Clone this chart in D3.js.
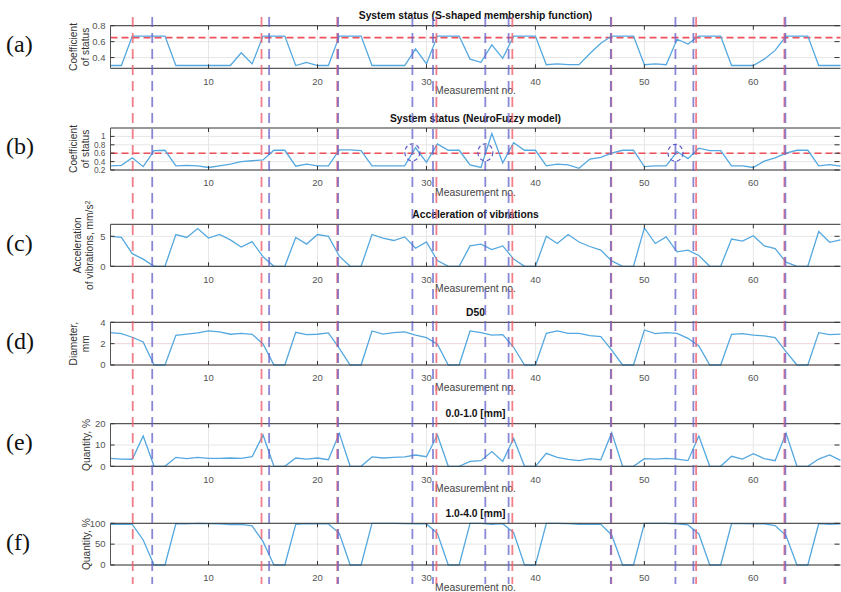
<!DOCTYPE html>
<html>
<head>
<meta charset="utf-8">
<script src="https://cdn.jsdelivr.net/npm/d3@7"></script>
<style>
  body { margin: 0; background: #fff; }
  svg { display: block; font-family: "Liberation Sans", Arial, sans-serif; }
</style>
</head>
<body>
<div id="chart"></div>
<script>
// measurement values, one per measurement no. 1..68
var statusS = [0.3,0.3,0.67,0.67,0.67,0.67,0.3,0.3,0.3,0.3,0.3,0.3,0.46,0.32,0.67,0.67,0.67,0.3,0.34,0.3,
  0.3,0.67,0.67,0.67,0.3,0.3,0.3,0.3,0.51,0.32,0.67,0.67,0.67,0.38,0.34,0.56,0.39,0.67,0.67,0.67,
  0.31,0.32,0.31,0.31,0.45,0.58,0.67,0.67,0.67,0.31,0.32,0.31,0.63,0.57,0.67,0.67,0.67,0.3,0.3,0.3,
  0.38,0.49,0.67,0.67,0.67,0.3,0.3,0.3];
var statusNF = [0.3,0.31,0.49,0.28,0.66,0.67,0.3,0.31,0.3,0.26,0.3,0.34,0.4,0.42,0.44,0.67,0.67,0.29,0.34,0.3,
  0.3,0.68,0.68,0.66,0.3,0.3,0.3,0.3,0.73,0.38,0.82,0.67,0.67,0.32,0.26,1.07,0.37,0.85,0.67,0.67,
  0.3,0.34,0.32,0.24,0.46,0.5,0.6,0.67,0.67,0.28,0.3,0.3,0.64,0.47,0.72,0.66,0.66,0.3,0.3,0.26,
  0.41,0.49,0.6,0.67,0.67,0.3,0.33,0.29];
var accel = [5.0,4.83,2.1,1.2,0,0,5.3,4.8,6.3,4.7,5.3,4.4,3.2,4.1,1.6,0,0,4.8,3.7,5.3,
  5.0,1.7,0,0,5.3,4.7,4.3,4.9,3.0,4.05,0.95,0,0,3.4,3.7,2.8,3.4,1.2,0,0,
  5.0,3.8,5.3,4.05,3.3,2.7,0.9,0,0,6.4,3.8,4.9,2.4,2.7,1.8,0,0,4.55,4.2,5.1,
  3.4,2.95,0.7,0,0,5.8,4.0,4.4];
var d50 = [3.03,2.94,2.6,2.16,0,0,2.78,2.9,3.0,3.19,3.1,2.88,2.97,2.88,1.97,0,0,3.06,2.84,2.88,
  3.0,1.56,0,0,3.19,2.9,3.03,3.1,2.8,2.56,1.94,0,0,3.19,3.03,2.8,2.84,1.66,0,0,
  2.97,3.2,2.97,2.97,2.75,2.66,1.4,0,0,3.28,2.94,3.03,2.97,2.5,1.78,0,0,2.88,2.94,2.8,
  2.72,2.56,1.25,0,0,3.03,2.84,2.9];
var q0010 = [3.75,3.4,3.3,14.2,0,0,4.2,3.6,4.2,3.75,3.75,3.9,3.75,4.5,14.7,0,0,3.9,3.4,3.9,
  3.1,15.5,0,0,4.4,3.9,4.2,4.4,5.3,4.5,14.7,0,0,2.3,2.65,6.9,2.3,13.1,0,0,
  6.1,4.2,3.3,2.65,3.6,3.1,15.8,0,0,3.6,3.4,3.75,3.4,2.65,14.2,0,0,4.7,3.4,5.9,
  3.6,2.65,15.6,0,0,3.4,5.3,2.8];
var q1040 = [97.6,97.6,97.6,60,0,0,99,98.4,100,99,98.4,96.8,97.6,93.6,56,0,0,97.6,99,98.4,
  98.4,76,0,0,100,100,100,99,98.4,98.4,76,0,0,100,100,97.6,99,77.6,0,0,
  100,100,99,97.6,97.6,97.6,72,0,0,100,100,100,98.4,96,74.4,0,0,99,99,98.4,
  98.4,94.4,70.4,0,0,99,97.6,98.4];

// vertical marker lines (measurement no.)
var redLines = [3.04, 14.86, 21.81, 30.91, 37.88, 46.96, 54.75, 62.85];
var blueLines = [4.83, 15.56, 21.89, 28.71, 30.6, 35.4, 37.54, 46.92, 52.85, 54.5, 62.94];
// dashed circles on NeuroFuzzy panel
var circleX = [28.7, 35.4, 52.85];
var circleY = [0.62, 0.62, 0.61];
var xTicks = [10, 20, 30, 40, 50, 60];

var panels = [
  {lab:"(a)", title:"System status (S-shaped membership function)", data:statusS, top:25.7, bottom:68.3,
   domain:[0.265,0.8], ticks:[0.4,0.6,0.8], fmt:d3.format(".1f"), ylab:["Coefficient","of status"], thr:0.65},
  {lab:"(b)", title:"System status (NeuroFuzzy model)", data:statusNF, top:128, bottom:170,
   domain:[0.2,1.2], ticks:[0.2,0.4,0.6,0.8,1], fmt:function(d){ return d==1 ? "1" : d3.format(".1f")(d); },
   ylab:["Coefficient","of status"], thr:0.6, small:true},
  {lab:"(c)", title:"Acceleration of vibrations", data:accel, top:224.3, bottom:266.3,
   domain:[0,7], ticks:[0,5], fmt:String, ylab:["Acceleration","of vibrations, mm/s"], sup:true},
  {lab:"(d)", title:"D50", data:d50, top:322.3, bottom:365,
   domain:[0,4], ticks:[0,2,4], fmt:String, ylab:["Diameter,","mm"]},
  {lab:"(e)", title:"0.0-1.0 [mm]", data:q0010, top:423.7, bottom:466.3,
   domain:[0,20], ticks:[0,10,20], fmt:String, ylab:["Quantity, %"]},
  {lab:"(f)", title:"1.0-4.0 [mm]", data:q1040, top:523.3, bottom:565,
   domain:[0,100], ticks:[0,50,100], fmt:String, ylab:["Quantity, %"]}
];

var W = 841, H = 592;
var left = 110.5, right = 840.5;
var x = d3.scaleLinear().domain([1, 68]).range([left, right]);

var svg = d3.select("#chart").append("svg").attr("width", W).attr("height", H);

panels.forEach(function(p){
  var y = d3.scaleLinear().domain(p.domain).range([p.bottom, p.top]);
  var g = svg.append("g");

  // grid
  g.selectAll(".vg").data(xTicks).enter().append("line")
    .attr("x1", x).attr("x2", x).attr("y1", p.top).attr("y2", p.bottom)
    .attr("stroke", "#e6e6e6").attr("stroke-width", 1);
  g.selectAll(".hg").data(p.ticks).enter().append("line")
    .attr("x1", left).attr("x2", right).attr("y1", y).attr("y2", y)
    .attr("stroke", p.lab=="(d)" ? "#f0d6da" : "#e6e6e6").attr("stroke-width", 1);

  // threshold
  if (p.thr != null) {
    g.append("line").attr("x1", left).attr("x2", right)
      .attr("y1", y(p.thr)).attr("y2", y(p.thr))
      .attr("stroke", "#f0505a").attr("stroke-width", 1.6).attr("stroke-dasharray", "7,4");
  }

  // series
  var line = d3.line().x(function(d, i){ return x(i + 1); }).y(function(d){ return y(d); });
  g.append("path").datum(p.data).attr("d", line)
    .attr("fill", "none").attr("stroke", "#55a8df").attr("stroke-width", 1.3);

  // box + ticks
  g.append("line").attr("x1", left).attr("x2", right).attr("y1", p.top).attr("y2", p.top)
    .attr("stroke", "#333").attr("stroke-width", 1);
  g.append("line").attr("x1", left).attr("x2", right).attr("y1", p.bottom).attr("y2", p.bottom)
    .attr("stroke", "#333").attr("stroke-width", 1);
  g.append("line").attr("x1", left).attr("x2", left).attr("y1", p.top).attr("y2", p.bottom)
    .attr("stroke", "#555").attr("stroke-width", 1);
  g.selectAll(".xt").data(xTicks).enter().append("path")
    .attr("d", function(d){ return "M" + x(d) + "," + p.top + "v4M" + x(d) + "," + p.bottom + "v-4"; })
    .attr("stroke", "#333").attr("stroke-width", 1);
  g.selectAll(".yt").data(p.ticks).enter().append("path")
    .attr("d", function(d){ return "M" + left + "," + y(d) + "h4M" + (right - 1) + "," + y(d) + "h-5"; })
    .attr("stroke", "#333").attr("stroke-width", 1);

  // tick labels
  g.selectAll(".xl").data(xTicks).enter().append("text")
    .attr("x", x).attr("y", p.bottom + 13).attr("dy", "0.35em")
    .attr("text-anchor", "middle").attr("font-size", 9.5).attr("fill", "#555").text(String);
  g.selectAll(".yl").data(p.ticks).enter().append("text")
    .attr("x", left - 5).attr("y", y).attr("dy", "0.35em")
    .attr("text-anchor", "end").attr("font-size", p.small ? 8.3 : 9.5).attr("fill", "#555").text(p.fmt);

  // titles and labels
  g.append("text").attr("x", (left + right) / 2).attr("y", p.top - 10).attr("dy", "0.35em")
    .attr("text-anchor", "middle").attr("font-size", 10.3).attr("font-weight", "bold")
    .attr("fill", "#111").text(p.title);
  g.append("text").attr("x", (left + right) / 2).attr("y", p.bottom + 22).attr("dy", "0.35em")
    .attr("text-anchor", "middle").attr("font-size", 10.4).attr("fill", "#444").text("Measurement no.");

  var mid = (p.top + p.bottom) / 2;
  var xs = p.ylab.length == 2 ? (p.sup ? [77, 89.5] : [73.5, 85]) : [86];
  p.ylab.forEach(function(s, k){
    var t = g.append("text").attr("transform", "translate(" + xs[k] + "," + mid + ") rotate(-90)")
      .attr("dy", "0.35em").attr("text-anchor", "middle").attr("font-size", 10.2).attr("fill", "#333");
    t.append("tspan").text(s);
    if (p.sup && k == 1) t.append("tspan").attr("baseline-shift", "super").attr("font-size", 7).text("2");
  });

  svg.append("text").attr("x", 6).attr("y", mid - 3).attr("dy", "0.35em")
    .attr("font-family", "'Liberation Serif', 'Times New Roman', serif").attr("font-size", 24)
    .attr("fill", "#111").text(p.lab);

  if (p.lab == "(b)") {
    g.selectAll(".circ").data(circleX).enter().append("ellipse")
      .attr("cx", function(d){ return x(d); }).attr("cy", function(d, i){ return y(circleY[i]); })
      .attr("rx", 7.5).attr("ry", 8.5).attr("fill", "none")
      .attr("stroke", "#5a5ac8").attr("stroke-width", 1.2).attr("stroke-dasharray", "4,3");
  }
});

// vertical dashed markers across all panels
svg.selectAll(".rl").data(redLines).enter().append("line")
  .attr("x1", x).attr("x2", x).attr("y1", 17).attr("y2", 584)
  .attr("stroke", "#f0606c").attr("stroke-opacity", 0.8).attr("stroke-width", 1.8)
  .attr("stroke-dasharray", "10,6");
svg.selectAll(".bl").data(blueLines).enter().append("line")
  .attr("x1", x).attr("x2", x).attr("y1", 17).attr("y2", 584)
  .attr("stroke", "#6060c8").attr("stroke-opacity", 0.75).attr("stroke-width", 1.8)
  .attr("stroke-dasharray", "10,6");
</script>
</body>
</html>
